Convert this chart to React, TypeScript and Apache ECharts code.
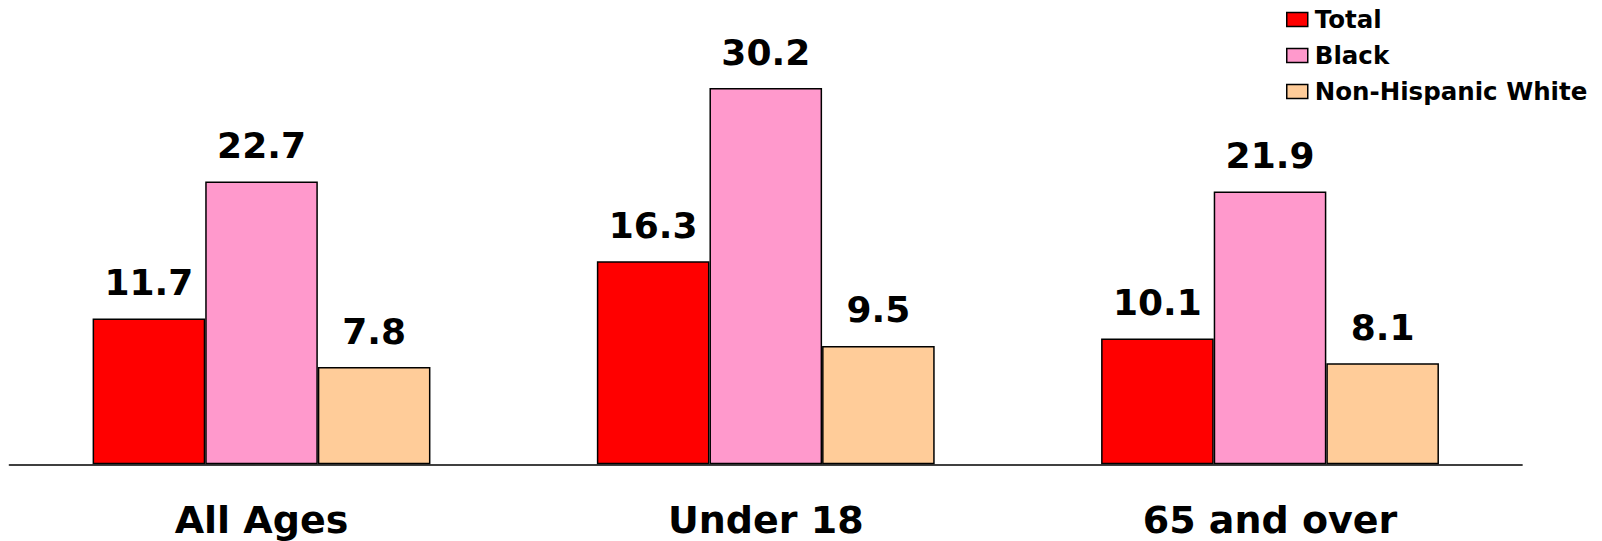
import React, { useEffect, useRef } from "react";
import * as echarts from "echarts";

const categories = ["All Ages", "Under 18", "65 and over"];
const seriesNames = ["Total", "Black", "Non-Hispanic White"];
const totalValues = [11.7, 16.3, 10.1];
const blackValues = [22.7, 30.2, 21.9];
const whiteValues = [7.8, 9.5, 8.1];
const seriesColors = ["#FF0000", "#FF99CC", "#FFCC99"];

const FONT = "'DejaVu Sans', sans-serif";

export default function App() {
  const ref = useRef<HTMLDivElement>(null);

  useEffect(() => {
    if (!ref.current) return;
    const chart = echarts.init(ref.current, undefined, { renderer: "svg" });
    const values = [totalValues, blackValues, whiteValues];

    chart.setOption({
      animation: false,
      backgroundColor: "#ffffff",
      grid: { left: 9.4, top: 28.2, width: 1512.75, height: 436.1 },
      legend: {
        orient: "vertical",
        left: 1281,
        top: 2,
        itemWidth: 21,
        itemHeight: 14,
        itemGap: 11,
        icon: "rect",
        data: seriesNames,
        itemStyle: { borderColor: "#000", borderWidth: 1.5 },
        textStyle: {
          fontFamily: FONT,
          fontWeight: "bold",
          fontSize: 24.5,
          lineHeight: 24,
          color: "#000",
          padding: [0, 0, 0, 2],
        },
      },
      xAxis: {
        type: "category",
        data: categories,
        axisLine: { lineStyle: { color: "#000", width: 1.5 } },
        axisTick: { show: false },
        axisLabel: {
          margin: 37,
          fontFamily: FONT,
          fontWeight: "bold",
          fontSize: 38,
          color: "#000",
        },
      },
      yAxis: {
        type: "value",
        min: 0,
        max: 35,
        show: false,
        splitLine: { show: false },
      },
      series: seriesNames.map((name, i) => ({
        name,
        type: "bar",
        data: values[i],
        barGap: "0%",
        barCategoryGap: "33%",
        itemStyle: {
          color: seriesColors[i],
          borderColor: "#000",
          borderWidth: 1.5,
        },
        label: {
          show: true,
          position: "top",
          distance: 18,
          fontFamily: FONT,
          fontWeight: "bold",
          fontSize: 36,
          color: "#000",
        },
      })),
    });

    return () => chart.dispose();
  }, []);

  return (
    <div
      ref={ref}
      style={{ position: "fixed", left: 0, top: 0, width: 1602, height: 541 }}
    />
  );
}
